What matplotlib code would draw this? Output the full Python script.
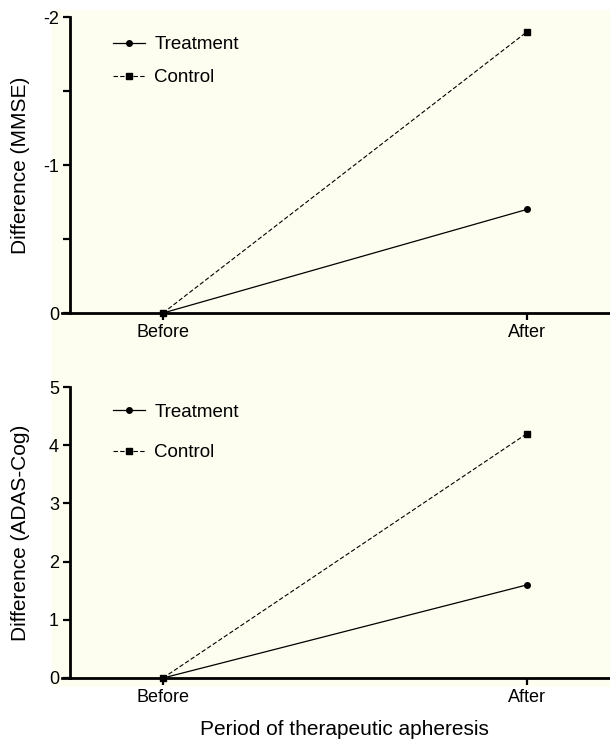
import matplotlib.pyplot as plt
from matplotlib.patches import Rectangle

periods = ['Before', 'After']
mmse_treatment = [0, -0.7]
mmse_control = [0, -1.9]
adas_treatment = [0, 1.6]
adas_control = [0, 4.2]

plt.rcParams['font.family'] = ['Liberation Sans', 'DejaVu Sans']

fig = plt.figure(figsize=(6.1, 7.42), dpi=100)
fig.patch.set_facecolor('white')
cream = '#fdfdf0'
fig.patches.append(Rectangle((52 / 610, 1 - 687 / 742), 1 - 52 / 610, (687 - 10) / 742,
                             transform=fig.transFigure, facecolor=cream, edgecolor='none', zorder=-10))

# axes start a little left of the y spine, so the x spine pokes out on the left
ax1 = fig.add_axes([62 / 610, 1 - 313 / 742, 548 / 610, 296 / 742])
ax2 = fig.add_axes([62 / 610, 1 - 678 / 742, 548 / 610, 291 / 742])

x = list(range(len(periods)))


def style(ax, legend_top, spacing):
    ax.set_facecolor('none')
    for s in ['top', 'right']:
        ax.spines[s].set_visible(False)
    for s in ['left', 'bottom']:
        ax.spines[s].set_linewidth(2)
    ax.spines['left'].set_position(('data', -0.2555))
    ax.tick_params(direction='out', length=5, width=1.6, labelsize=13, pad=3)
    ax.tick_params(which='minor', direction='out', length=5, width=1.6)
    ax.set_xticks(x)
    ax.set_xticklabels(periods)
    ax.set_xlim(-0.2775, 1.228)
    ax.legend(loc='upper left', frameon=False, fontsize=13.5, handlelength=1.7,
              handletextpad=0.5, labelspacing=spacing, borderpad=0, borderaxespad=0,
              bbox_to_anchor=(51 / 548, legend_top))


ax1.plot(x, mmse_treatment, '-', color='black', lw=0.9, marker='o', ms=4, label='Treatment', clip_on=False)
ax1.plot(x, mmse_control, '--', color='black', lw=0.8, marker='s', ms=4, label='Control', dashes=(4, 2), clip_on=False)
ax1.set_ylim(0, -2)
ax1.set_yticks([0, -1, -2])
ax1.set_yticklabels(['0', '-1', '-2'])
ax1.set_yticks([-0.5, -1.5], minor=True)
ax1.set_ylabel('Difference (MMSE)', fontsize=15)
ax1.yaxis.set_label_coords(-0.058, 0.5)
style(ax1, 0.936, 0.85)

ax2.plot(x, adas_treatment, '-', color='black', lw=0.9, marker='o', ms=4, label='Treatment', clip_on=False)
ax2.plot(x, adas_control, '--', color='black', lw=0.8, marker='s', ms=4, label='Control', dashes=(4, 2), clip_on=False)
ax2.set_ylim(0, 5)
ax2.set_yticks([0, 1, 2, 3, 4, 5])
ax2.set_ylabel('Difference (ADAS-Cog)', fontsize=15)
ax2.yaxis.set_label_coords(-0.058, 0.5)
ax2.set_xlabel('Period of therapeutic apheresis', fontsize=15)
ax2.xaxis.set_label_coords(0.516, -0.145)
style(ax2, 0.943, 1.25)

fig.savefig('out.png', dpi=100)
